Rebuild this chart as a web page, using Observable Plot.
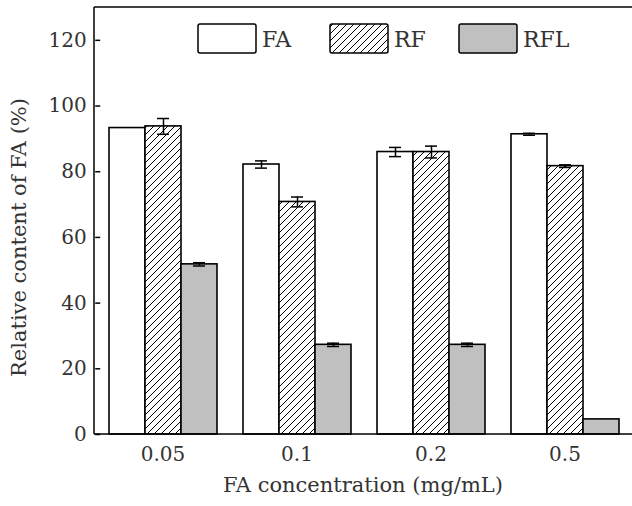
<!DOCTYPE html>
<html>
<head>
<meta charset="utf-8">
<script src="https://cdn.jsdelivr.net/npm/d3@7"></script>
<script src="https://cdn.jsdelivr.net/npm/@observablehq/plot@0.6"></script>
<style>
  html, body { margin: 0; padding: 0; background: white; }
  #chart svg { display: block; }
</style>
</head>
<body>
<div id="chart"></div>
<script>
const concentrations = ["0.05", "0.1", "0.2", "0.5"];
const series = ["FA", "RF", "RFL"];
const faValues = [93.3, 82.2, 86.0, 91.4];
const faErrors = [0.0, 1.1, 1.4, 0.3];
const rfValues = [93.8, 70.8, 86.0, 81.7];
const rfErrors = [2.4, 1.5, 1.8, 0.4];
const rflValues = [51.8, 27.3, 27.3, 4.6];
const rflErrors = [0.5, 0.5, 0.5, 0.0];
const yTicks = [0, 20, 40, 60, 80, 100, 120];
const xTitle = "FA concentration (mg/mL)";
const yTitle = "Relative content of FA (%)";
const seriesFills = ["white", "url(#hatch)", "#c0c0c0"];

const valueSets = [faValues, rfValues, rflValues];
const errorSets = [faErrors, rfErrors, rflErrors];
const rows = [];
concentrations.forEach((c, i) => {
  series.forEach((s, j) => {
    rows.push({conc: c, series: s, value: valueSets[j][i], err: errorSets[j][i]});
  });
});
const errRows = rows.filter(d => d.err > 0);

const font = "DejaVu Serif";
const W = 632, H = 506, mL = 94, mR = 0, mT = 7, mB = 72;
const outer = 0.095;
const facetOffset = (W - mL - mR) / (concentrations.length) * outer;

const plot = Plot.plot({
  width: W,
  height: H,
  marginLeft: mL,
  marginRight: mR,
  marginTop: mT,
  marginBottom: mB,
  style: {fontFamily: font, fontSize: "20px", color: "#333", background: "white"},
  fx: {domain: concentrations, paddingInner: 0.19, paddingOuter: outer, label: null},
  x: {domain: series, padding: 0, axis: null},
  y: {domain: [0, 130], axis: null},
  color: {domain: series, range: seriesFills, legend: false},
  marks: [
    Plot.barY(rows, {fx: "conc", x: "series", y: "value", fill: "series", stroke: "black", strokeWidth: 1.6}),
    Plot.ruleX(errRows, {fx: "conc", x: "series", y1: d => d.value - d.err, y2: d => d.value + d.err, stroke: "black", strokeWidth: 1.5}),
    Plot.tickY(errRows, {fx: "conc", x: "series", y: d => d.value + d.err, insetLeft: 12, insetRight: 12, stroke: "black", strokeWidth: 1.5}),
    Plot.tickY(errRows, {fx: "conc", x: "series", y: d => d.value - d.err, insetLeft: 12, insetRight: 12, stroke: "black", strokeWidth: 1.5}),
    Plot.axisY({ticks: yTicks, tickSize: -5, tickPadding: 14, dx: -facetOffset, label: null, stroke: "black", strokeWidth: 1.5}),
    Plot.axisFx({anchor: "bottom", tickSize: 0, tickPadding: 12, label: null})
  ]
});

const svg = d3.select(plot);
const defs = svg.insert("defs", ":first-child");
const pat = defs.append("pattern")
  .attr("id", "hatch")
  .attr("patternUnits", "userSpaceOnUse")
  .attr("width", 7).attr("height", 7);
pat.append("rect").attr("width", 7).attr("height", 7).attr("fill", "white");
pat.append("path")
  .attr("d", "M0,7 L7,0 M-1.75,1.75 L1.75,-1.75 M5.25,8.75 L8.75,5.25")
  .attr("stroke", "black").attr("stroke-width", 1);

// frame lines (top, left, bottom) around the plotting area
const yScale = plot.scale("y");
const yTop = yScale.apply(130), yBot = yScale.apply(0);
const fr = svg.append("g").attr("fill", "none").attr("stroke", "black").attr("stroke-width", 1.5);
fr.append("path").attr("d", `M${mL},${yTop}H${W - mR}`);
fr.append("path").attr("d", `M${mL},${yTop}V${yBot}`);
fr.append("path").attr("d", `M${mL},${yBot}H${W - mR}`);

// axis titles
svg.append("text")
  .attr("x", (mL + W - mR) / 2).attr("y", yBot + 58)
  .attr("text-anchor", "middle")
  .attr("font-family", font).attr("font-size", 21).attr("fill", "#333")
  .text(xTitle);
svg.append("text")
  .attr("transform", `translate(26,${(yTop + yBot) / 2 + 17}) rotate(-90)`)
  .attr("text-anchor", "middle")
  .attr("font-family", font).attr("font-size", 21).attr("fill", "#333")
  .text(yTitle);

// legend inside the plot area
const legendItems = [
  {label: "FA", x: 198},
  {label: "RF", x: 330},
  {label: "RFL", x: 459}
];
const lg = svg.append("g").attr("class", "legend");
legendItems.forEach((it, i) => {
  lg.append("rect")
    .attr("x", it.x).attr("y", 24).attr("width", 58).attr("height", 29)
    .attr("rx", 2)
    .attr("fill", seriesFills[i]).attr("stroke", "black").attr("stroke-width", 1.5);
  lg.append("text")
    .attr("x", it.x + 64).attr("y", 47)
    .attr("text-anchor", "start")
    .attr("font-family", font).attr("font-size", 22).attr("fill", "#333")
    .text(it.label);
});

document.getElementById("chart").appendChild(plot);
</script>
</body>
</html>
